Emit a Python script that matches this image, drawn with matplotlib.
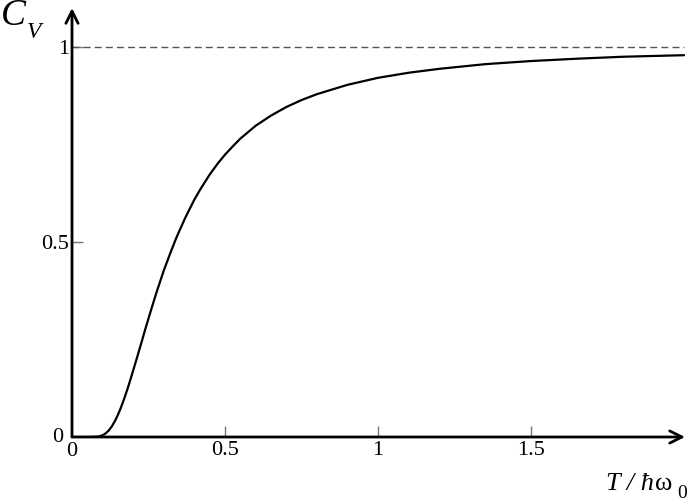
import matplotlib
matplotlib.use("Agg")
import matplotlib.pyplot as plt

# values
T_vals = [0.0, 0.06, 0.08, 0.09, 0.10, 0.11, 0.12, 0.13, 0.14, 0.15, 0.16, 0.17,
          0.18, 0.19, 0.20, 0.21, 0.225, 0.24, 0.25, 0.26, 0.275, 0.28, 0.30, 0.32,
          0.34, 0.35, 0.37, 0.40, 0.42, 0.45, 0.475, 0.50, 0.525, 0.55, 0.60, 0.65,
          0.70, 0.75, 0.80, 0.90, 1.00, 1.10, 1.20, 1.35, 1.50, 1.65, 1.80, 2.00]
C_vals = [0.0, 0.0, 0.0006, 0.0018, 0.0045, 0.0093, 0.0167, 0.0270, 0.0406, 0.0567,
          0.0757, 0.0970, 0.120, 0.145, 0.171, 0.197, 0.237, 0.278, 0.304, 0.330,
          0.368, 0.380, 0.427, 0.469, 0.509, 0.527, 0.562, 0.609, 0.636, 0.673,
          0.700, 0.724, 0.745, 0.765, 0.798, 0.824, 0.846, 0.864, 0.879, 0.903,
          0.921, 0.934, 0.944, 0.956, 0.964, 0.970, 0.975, 0.979]
x_ticks = [0.5, 1.0, 1.5]
x_ticklabels = ["0.5", "1", "1.5"]
y_ticks = [0.5, 1.0]
y_ticklabels = ["0.5", "1"]
limit_value = 1.0

plt.rcParams['font.family'] = ['Liberation Serif', 'DejaVu Serif']

W, H = 691, 504
fig = plt.figure(figsize=(W / 100, H / 100), dpi=100)
x0, x1 = 72, 685
y0, y1 = 437, 8
ax = fig.add_axes([x0 / W, 1 - y0 / H, (x1 - x0) / W, (y0 - y1) / H])
ax.set_xlim(0, 2.003)
ax.set_ylim(0, 1.1)
for s in ax.spines.values():
    s.set_visible(False)

ax.plot(T_vals, C_vals, color='black', lw=1.6, solid_joinstyle='round',
        solid_capstyle='round')
ax.plot([0, 2.0], [limit_value, limit_value], color='#555555', lw=1.0,
        linestyle=(0, (5, 3)))

# axes with arrows
ax.annotate('', xy=(2.003, 0), xytext=(0, 0),
            arrowprops=dict(arrowstyle='->', lw=2.0, color='black',
                            mutation_scale=22, shrinkA=0, shrinkB=0),
            annotation_clip=False)
ax.annotate('', xy=(0, 1.1), xytext=(0, 0),
            arrowprops=dict(arrowstyle='->', lw=2.0, color='black',
                            mutation_scale=22, shrinkA=0, shrinkB=0),
            annotation_clip=False)

ax.set_xticks(x_ticks)
ax.set_xticklabels(x_ticklabels)
ax.set_yticks(y_ticks)
ax.set_yticklabels(y_ticklabels)
ax.tick_params(direction='in', length=8, width=1.0, color='#777777',
               labelsize=16, pad=3)
ax.tick_params(axis='y', pad=2)

# origin labels
fig.text(58 / W, 1 - 437 / H, "0", fontsize=16, ha='center', va='center')
fig.text(72 / W, 1 - 452 / H, "0", fontsize=16, ha='center', va='center')

# axis labels
fig.text(1 / W, 1 - 25 / H, "C", fontsize=27, style='italic',
         ha='left', va='baseline')
fig.text(27 / W, 1 - 38 / H, "V", fontsize=17, style='italic', ha='left', va='baseline')
fig.text(606 / W, 1 - 490 / H, "T / ħ", fontsize=19, style='italic', ha='left',
         va='baseline')
fig.text(655 / W, 1 - 490 / H, "ω", fontsize=19, ha='left', va='baseline')
fig.text(677 / W, 1 - 498 / H, "0", fontsize=14, ha='left', va='baseline')

fig.savefig("out.png", dpi=100)
